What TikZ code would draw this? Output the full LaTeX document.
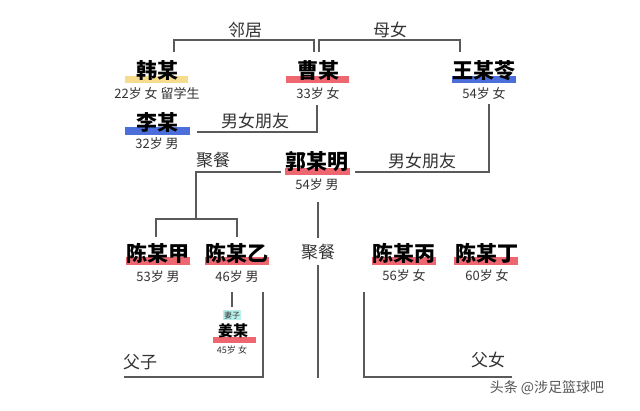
\documentclass[tikz,border=0pt]{standalone}
\usepackage{fontspec}
\newfontfamily\cjk{Noto Sans CJK SC}
\definecolor{linegray}{HTML}{5A5A5A}
\definecolor{txtgray}{HTML}{333333}
\definecolor{baryellow}{HTML}{F8DC8E}
\definecolor{barred}{HTML}{EE6670}
\definecolor{barblue}{HTML}{4C6EDB}
\definecolor{tagcyan}{HTML}{B8F0EC}
\definecolor{wmgray}{HTML}{555555}
\begin{document}
\begin{tikzpicture}[x=1pt,y=-1pt,
  conn/.style={draw=linegray, line width=1.2pt},
  pname/.style={font=\cjk\bfseries\fontsize{21}{21}\selectfont, inner sep=0pt, text=black},
  pnamesmall/.style={font=\cjk\bfseries\fontsize{15}{15}\selectfont, inner sep=0pt, text=black},
  age/.style={font=\cjk\fontsize{13}{13}\selectfont, inner sep=0pt, text=txtgray},
  agesmall/.style={font=\cjk\fontsize{9}{9}\selectfont, inner sep=0pt, text=txtgray},
  rel/.style={font=\cjk\fontsize{17}{17}\selectfont, inner sep=0pt, text=txtgray},
  tag/.style={font=\cjk\fontsize{8}{8}\selectfont, inner sep=1pt, fill=tagcyan, text=txtgray},
]
\useasboundingbox[fill=white] (0,0) rectangle (640,410);

% bars
\fill[baryellow] (125,76) rectangle (188,83);
\fill[barred] (286,76) rectangle (349,83);
\fill[barblue] (452,76) rectangle (516,83);
\fill[barblue] (125,127) rectangle (190,135);
\fill[barred] (285,168) rectangle (350,175);
\fill[barred] (126,257) rectangle (190,265);
\fill[barred] (205,257) rectangle (269,265);
\fill[barred] (372,257) rectangle (436,265);
\fill[barred] (454,257) rectangle (518,265);
\fill[barred] (213,337) rectangle (256,343);

% people
\node[pname] (han) at (157,71) {韩某};
\node[age] (hanage) at (157,93) {22岁 女 留学生};
\node[pname] (cao) at (318,71) {曹某};
\node[age] (caoage) at (318,93) {33岁 女};
\node[pname] (wang) at (484,71) {王某苓};
\node[age] (wangage) at (484,93) {54岁 女};
\node[pname] (li) at (157,123) {李某};
\node[age] (liage) at (157,144) {32岁 男};
\node[pname] (guo) at (317,162) {郭某明};
\node[age] (guoage) at (317,185) {54岁 男};
\node[pname] (cja) at (158,253) {陈某甲};
\node[age] (cjaage) at (158,277) {53岁 男};
\node[pname] (cyi) at (237,253) {陈某乙};
\node[age] (cyiage) at (237,277) {46岁 男};
\node[pname] (cbing) at (404,253) {陈某丙};
\node[age] (cbingage) at (404,275) {56岁 女};
\node[pname] (cding) at (487,253) {陈某丁};
\node[age] (cdingage) at (487,275) {60岁 女};
\node[tag] (qizi) at (232,315) {妻子};
\node[pnamesmall] (jiang) at (233,331) {姜某};
\node[agesmall] (jiangage) at (232,350) {45岁 女};

% relation labels
\node[rel] (linju) at (245,30) {邻居};
\node[rel] (munu) at (390,30) {母女};
\node[rel] (nvy1) at (255,121) {男女朋友};
\node[rel] (nvy2) at (422,161) {男女朋友};
\node[rel] (jc1) at (213,160) {聚餐};
\node[rel] (jc2) at (318,252) {聚餐};
\node[rel] (fuzi) at (140,362) {父子};
\node[rel] (funu) at (488,360) {父女};

% watermark
\node[font=\cjk\fontsize{14}{14}\selectfont, inner sep=0pt, text=wmgray] (wm) at (547,388) {头条 @涉足篮球吧};

% coordinates
\coordinate (hanTop) at (174,52);
\coordinate (caoTopL) at (314,52);
\coordinate (caoTopR) at (319,52);
\coordinate (wangTop) at (460,52);
\coordinate (caoBot) at (317,105);
\coordinate (liR) at (197,132);
\coordinate (wangBot) at (489,104);
\coordinate (guoR) at (355,172);
\coordinate (guoL) at (281,172);
\coordinate (chenJoin) at (196,219);
\coordinate (cjaTop) at (156,237);
\coordinate (cyiTop) at (237,237);
\coordinate (guoBot) at (318,202);
\coordinate (jc2Top) at (318,238);
\coordinate (jc2Bot) at (318,265);
\coordinate (midEnd) at (318,378);
\coordinate (cyiBot) at (232,292);
\coordinate (qiziTop) at (232,307);
\coordinate (lTop) at (263,292);
\coordinate (lCorner) at (263,377);
\coordinate (lEnd) at (124,377);
\coordinate (rTop) at (364,292);
\coordinate (rCorner) at (364,377);
\coordinate (rEnd) at (512,377);

% connectors
\draw[conn] (hanTop) |- (caoTopL |- 0,40) -- (caoTopL);
\draw[conn] (caoTopR) |- (wangTop |- 0,40) -- (wangTop);
\draw[conn] (caoBot) |- (liR);
\draw[conn] (wangBot) |- (guoR);
\draw[conn] (guoL) -| (chenJoin);
\draw[conn] (cjaTop) |- (cyiTop |- chenJoin) -- (cyiTop);
\draw[conn] (guoBot) -- (jc2Top);
\draw[conn] (jc2Bot) -- (midEnd);
\draw[conn] (cyiBot) -- (qiziTop);
\draw[conn] (lTop) -- (lCorner) -- (lEnd);
\draw[conn] (rTop) -- (rCorner) -- (rEnd);
\end{tikzpicture}
\end{document}
